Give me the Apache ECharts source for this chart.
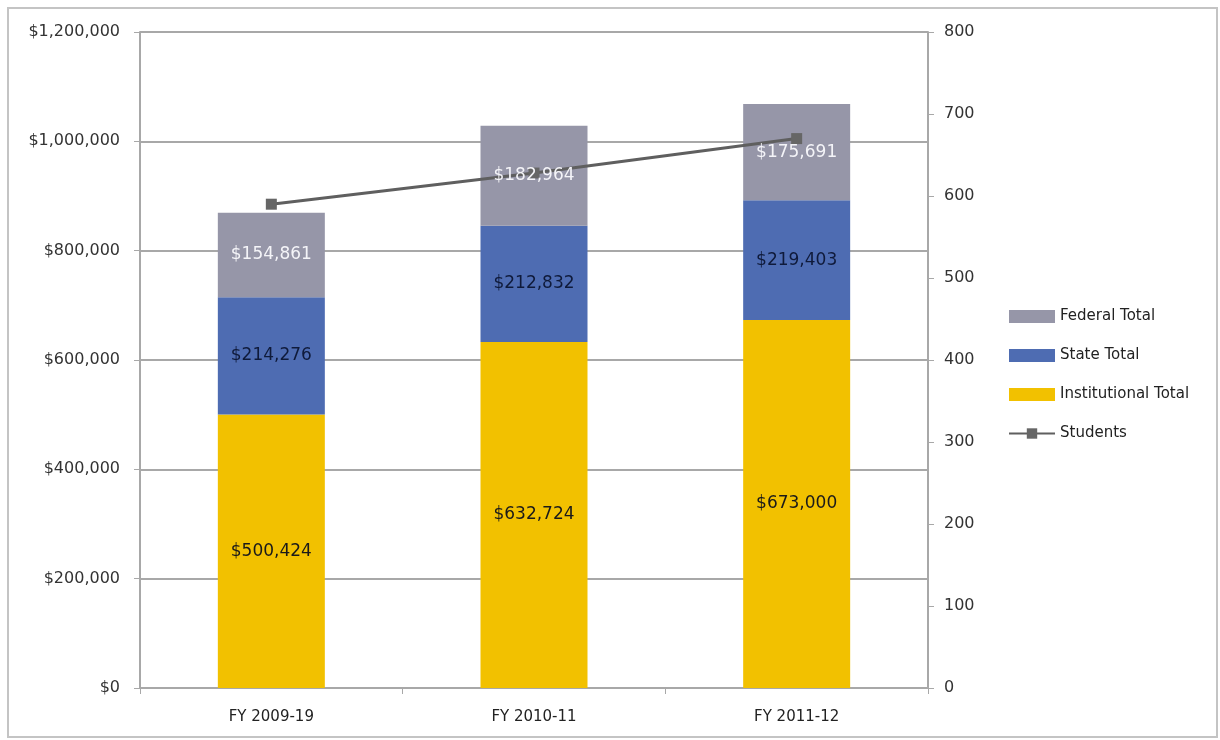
<!DOCTYPE html>
<html>
<head>
<meta charset="utf-8">
<script src="https://cdn.jsdelivr.net/npm/echarts@6/dist/echarts.min.js"></script>
<style>
  html, body { margin: 0; padding: 0; background: #fff; }
  #main { width: 1220px; height: 740px; }
</style>
</head>
<body>
<div id="main"></div>
<script>
var categories = ['FY 2009-19', 'FY 2010-11', 'FY 2011-12'];
var institutionalTotal = [500424, 632724, 673000];
var stateTotal = [214276, 212832, 219403];
var federalTotal = [154861, 182964, 175691];
var students = [590, 628, 670];

function dollars(v) {
    return '$' + v.toLocaleString('en-US');
}

var myChart = echarts.init(document.getElementById('main'));

var FONT = 'DejaVu Sans';

// bar colours and label colours, bottom to top
var stackParts = [
    { name: 'Institutional Total', data: institutionalTotal, color: '#F2C100', text: '#1a1a1a' },
    { name: 'State Total', data: stateTotal, color: '#4E6CB2', text: '#0f1a3a' },
    { name: 'Federal Total', data: federalTotal, color: '#9696A8', text: '#f4f4f8' }
];

var series = [];
// the coloured bars, under the line
stackParts.forEach(function (p) {
    series.push({
        name: p.name,
        type: 'bar',
        stack: 'total',
        barWidth: 107,
        z: 1,
        data: p.data,
        itemStyle: { color: p.color },
        label: { show: false }
    });
});
series.push({
    name: 'Students',
    type: 'line',
    yAxisIndex: 1,
    data: students,
    symbol: 'rect',
    symbolSize: 11,
    z: 3,
    lineStyle: { color: '#5f5f5f', width: 3 },
    itemStyle: { color: '#666' }
});
// the same stack again, clear, only to put the value labels above the line
stackParts.forEach(function (p) {
    series.push({
        name: p.name + ' label',
        type: 'bar',
        stack: 'labels',
        barWidth: 107,
        barGap: '-100%',
        z: 5,
        silent: true,
        data: p.data,
        itemStyle: { color: 'rgba(0,0,0,0)' },
        label: {
            show: true, position: 'inside', color: p.text,
            fontFamily: FONT, fontSize: 17,
            formatter: function (q) { return dollars(q.value); }
        }
    });
});

var option = {
    animation: false,
    backgroundColor: '#fff',
    graphic: [{
        type: 'rect',
        shape: { x: 8, y: 8, width: 1209, height: 729 },
        style: { fill: 'none', stroke: '#c4c4c4', lineWidth: 2 },
        silent: true
    }],
    legend: {
        orient: 'vertical',
        left: 1003,
        top: 304,
        itemGap: 24,
        itemWidth: 46,
        itemHeight: 13,
        textStyle: { fontFamily: FONT, fontSize: 15, color: '#222' },
        data: [
            { name: 'Federal Total', icon: 'rect' },
            { name: 'State Total', icon: 'rect' },
            { name: 'Institutional Total', icon: 'rect' },
            { name: 'Students' }
        ]
    },
    grid: { left: 140, right: 292, top: 32, bottom: 52 },
    xAxis: {
        type: 'category',
        data: categories,
        axisLine: { lineStyle: { color: '#a8a8a8', width: 2 } },
        axisTick: { show: true, length: 6, lineStyle: { color: '#a8a8a8' } },
        axisLabel: { color: '#222', margin: 22, fontFamily: FONT, fontSize: 15 }
    },
    yAxis: [{
        type: 'value',
        min: 0,
        max: 1200000,
        interval: 200000,
        axisLine: { show: true, lineStyle: { color: '#a8a8a8', width: 2 } },
        axisTick: { show: true, length: 6, lineStyle: { color: '#a8a8a8' } },
        splitLine: { lineStyle: { color: '#a8a8a8', width: 2 } },
        axisLabel: {
            color: '#333', margin: 20, fontFamily: FONT, fontSize: 16,
            formatter: function (v) { return dollars(v); }
        }
    }, {
        type: 'value',
        min: 0,
        max: 800,
        interval: 100,
        axisLine: { show: true, lineStyle: { color: '#a8a8a8', width: 2 } },
        axisTick: { show: true, length: 6, lineStyle: { color: '#a8a8a8' } },
        splitLine: { show: false },
        axisLabel: { color: '#333', margin: 16, fontFamily: FONT, fontSize: 16 }
    }],
    series: series
};

myChart.setOption(option);
</script>
</body>
</html>
